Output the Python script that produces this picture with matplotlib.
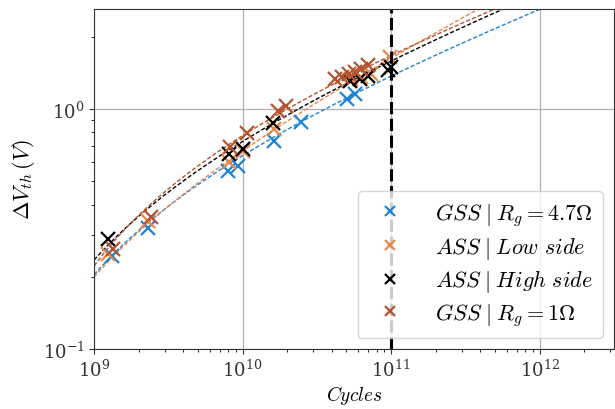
import numpy as np
import matplotlib
matplotlib.use("Agg")
import matplotlib.pyplot as plt

plt.rcParams['mathtext.fontset'] = 'cm'
plt.rcParams['font.family'] = ['DejaVu Serif']

# ---- data ----
labels = [r'$GSS\;|\;R_g = 4.7\Omega$', r'$ASS\;|\;Low\ side$',
          r'$ASS\;|\;High\ side$', r'$GSS\;|\;R_g = 1\Omega$']
colors = ['#1f83d6', '#e8894c', '#000000', '#b5532e']

gss47_x = [1.32e9, 2.31e9, 7.98e9, 9.33e9, 1.63e10, 2.48e10, 5.06e10, 5.73e10]
gss47_y = [0.245, 0.32, 0.552, 0.579, 0.736, 0.883, 1.10, 1.155]

low_x = [1.24e9, 2.3e9, 8.1e9, 1.0e10, 1.63e10, 5.4e10, 6.3e10, 7.3e10, 9.8e10]
low_y = [0.25, 0.34, 0.601, 0.668, 0.826, 1.33, 1.36, 1.40, 1.65]

high_x = [1.24e9, 8.1e9, 1.0e10, 1.6e10, 5.3e10, 6.2e10, 7.0e10, 9.5e10, 1.0e11]
high_y = [0.287, 0.649, 0.681, 0.874, 1.31, 1.33, 1.37, 1.45, 1.50]

gss1_x = [1.34e9, 2.42e9, 8.24e9, 1.07e10, 1.73e10, 1.96e10,
          4.2e10, 4.7e10, 5.2e10, 5.7e10, 6.3e10, 7.0e10]
gss1_y = [0.261, 0.355, 0.695, 0.794, 0.98, 1.03,
          1.33, 1.36, 1.40, 1.43, 1.47, 1.52]

# fit parameters (dV = a*(N/1e9)^b + c)
fit_a = [0.641, 0.45, 0.70, 0.887]
fit_b = [0.225, 0.31, 0.233, 0.21]
fit_c = [-0.437, -0.25, -0.465, -0.665]

xs = [gss47_x, low_x, high_x, gss1_x]
ys = [gss47_y, low_y, high_y, gss1_y]

fig = plt.figure(figsize=(6.15, 4.10), dpi=100)
ax = fig.add_axes([0.153, 0.146, 0.845, 0.830])

N = np.logspace(9, 12.6, 400)
for i in range(4):
    fit = fit_a[i] * (N / 1e9) ** fit_b[i] + fit_c[i]
    ax.plot(N, fit, linestyle='--', color=colors[i], lw=1.0, dashes=(3, 1.5))
for i in range(4):
    ax.plot(xs[i], ys[i], linestyle='none', marker='x', markersize=9.5,
            mew=1.6, color=colors[i], label=labels[i])

ax.axvline(1e11, color='k', linestyle='--', lw=2.2, dashes=(4, 1.5))

ax.set_xscale('log')
ax.set_yscale('log')
ax.set_xlim(1e9, 10**12.5)
ax.set_ylim(0.1, 2.61)
ax.grid(True, which='major', color='#b0b0b0', lw=0.9)
ax.tick_params(labelsize=13, labelcolor='#333333', colors='#333333')
ax.set_xlabel(r'$Cycles$', fontsize=14, labelpad=2)
ax.set_ylabel(r'$\Delta V_{th}\,(V)$', fontsize=16, labelpad=4)
for s in ax.spines.values():
    s.set_color('#333333')

ax.legend(loc='lower right', fontsize=16, markerscale=0.7,
          handletextpad=1.0, borderpad=0.45, labelspacing=0.3,
          fancybox=True, framealpha=0.8)

fig.savefig('out.png', dpi=100)
